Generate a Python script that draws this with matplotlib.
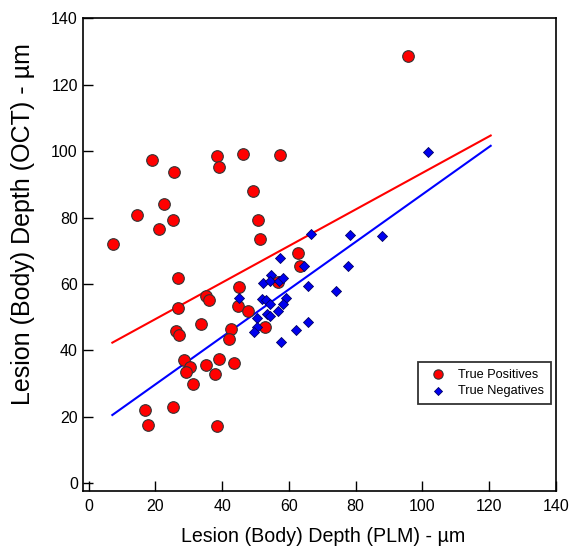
import numpy as np
import matplotlib.pyplot as plt

plt.rcParams['font.family'] = ['Liberation Sans', 'DejaVu Sans']

# True positives (PLM depth, OCT depth)
tp_plm = [7.2, 14.4, 19.1, 21.0, 22.6, 25.3, 25.6, 38.4, 39.0, 46.3, 49.2, 50.7,
          51.5, 57.3, 95.7, 26.7, 62.8, 63.3, 45.1, 56.9, 35.1, 36.0, 26.7, 44.9,
          47.7, 33.7, 26.1, 27.2, 52.8, 42.6, 42.0, 28.5, 39.0, 43.7, 30.4, 35.1,
          29.2, 38.0, 31.3, 17.0, 25.3, 17.7, 38.6]
tp_oct = [72.0, 80.8, 97.3, 76.5, 84.1, 79.3, 93.6, 98.4, 95.1, 99.2, 88.0, 79.3,
          73.5, 98.7, 128.7, 61.7, 69.2, 65.3, 59.2, 60.5, 56.5, 55.0, 52.6, 53.2,
          51.9, 48.0, 45.7, 44.7, 47.0, 46.4, 43.3, 37.2, 37.5, 36.1, 35.1, 35.5,
          33.5, 33.0, 29.8, 22.0, 22.9, 17.6, 17.3]

# True negatives
tn_plm = [66.5, 78.2, 87.8, 57.4, 64.4, 77.6, 54.8, 52.3, 54.3, 57.0, 58.3, 65.8,
          74.0, 45.2, 52.0, 53.3, 54.5, 59.1, 58.3, 56.9, 50.6, 53.6, 54.5, 50.6,
          49.6, 65.6, 62.0, 57.6, 101.7]
tn_oct = [75.0, 74.8, 74.3, 67.8, 65.4, 65.3, 62.6, 60.4, 61.0, 61.0, 61.9, 59.4,
          57.8, 55.9, 55.3, 55.0, 54.0, 55.9, 54.0, 51.9, 49.8, 50.8, 50.3, 47.1,
          45.6, 48.4, 46.0, 42.4, 99.8]

# regression lines (end points)
fit_x = [7.1, 120.5]
tp_fit = [42.3, 104.7]
tn_fit = [20.5, 101.6]

fig = plt.figure(figsize=(5.7, 5.49), dpi=100)
ax = fig.add_axes([0.145, 0.1056, 0.83, 0.861])

ax.plot(fit_x, tp_fit, color='red', lw=1.5, zorder=2)
ax.plot(fit_x, tn_fit, color='#0000ff', lw=1.5, zorder=2)

ax.scatter(tp_plm, tp_oct, s=70, marker='o', facecolor='red', edgecolor='#333333',
           linewidth=0.8, label='True Positives', zorder=3)
ax.scatter(tn_plm, tn_oct, s=26, marker='D', facecolor='#0000ee', edgecolor='#000066',
           linewidth=0.6, label='True Negatives', zorder=4)

ax.set_xlim(-1.8, 140)
ax.set_ylim(-2.4, 140)
ax.set_xticks(range(0, 141, 20))
ax.set_yticks(range(0, 141, 20))
ax.tick_params(direction='in', length=7, width=1, labelsize=11.5, colors='black')
ax.tick_params(axis='x', pad=6)
for sp in ax.spines.values():
    sp.set_linewidth(1.2)

ax.set_xlabel('Lesion (Body) Depth (PLM) - µm', fontsize=14.1, va='center')
ax.xaxis.set_label_coords(0.5075, -0.097)
ax.set_ylabel('Lesion (Body) Depth (OCT) - µm', fontsize=18, va='center')
ax.yaxis.set_label_coords(-0.126, 0.564)

leg = ax.legend(loc='lower right', bbox_to_anchor=(0.99, 0.184), fontsize=9.2,
                frameon=True, fancybox=False, edgecolor='black', markerscale=0.8,
                handletextpad=0.6, borderpad=0.55, labelspacing=0.35,
                borderaxespad=0)
leg.get_frame().set_linewidth(1.3)

fig.savefig('out.png', dpi=100)
